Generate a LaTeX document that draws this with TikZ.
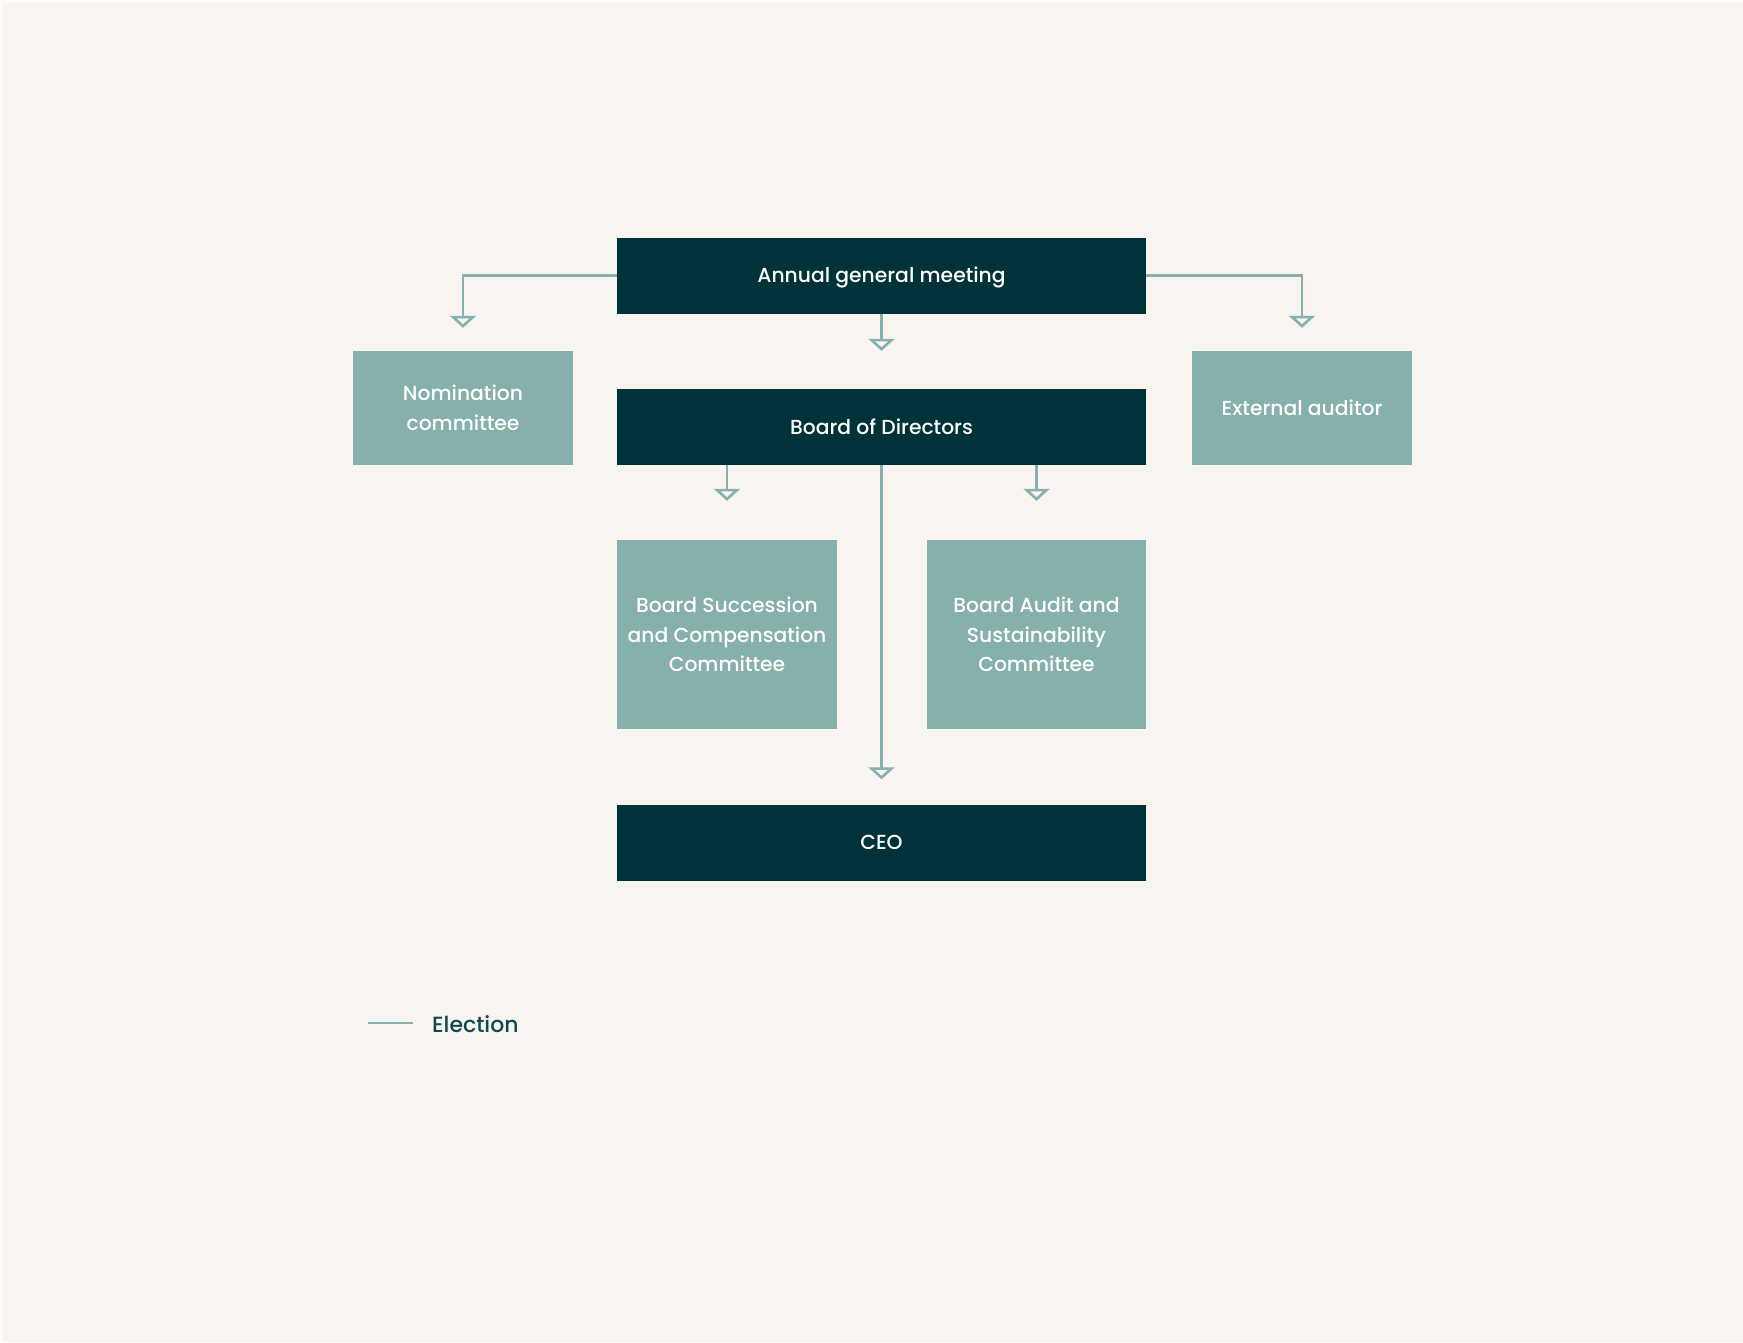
\documentclass[tikz,border=0pt]{standalone}
\usepackage{fontspec}
\setmainfont{Poppins}[BoldFont={Poppins Medium}]
\usetikzlibrary{arrows.meta}
\definecolor{bgc}{HTML}{F8F5F0}
\definecolor{edgec}{HTML}{FDFCFA}
\definecolor{darkc}{HTML}{003339}
\definecolor{lightc}{HTML}{85B0AB}
\definecolor{linec}{HTML}{86B1AC}
\definecolor{legc}{HTML}{0D4A4F}
\tikzset{
  oneline/.style={text height=14.5pt, text depth=0pt},
  darkbox/.style={rectangle, fill=darkc, inner sep=0pt, minimum width=529pt, minimum height=76pt, text=white, font=\fontsize{20.3}{29}\selectfont\bfseries, align=center, oneline},
  lightbox/.style={rectangle, fill=lightc, inner sep=0pt, minimum width=220pt, text=white, font=\fontsize{20.3}{29.5}\selectfont\bfseries, align=center},
  elect/.style={draw=linec, line width=2.6pt, -{Triangle[open, length=12pt, width=26pt, fill=bgc]}},
}
\begin{document}
\begin{tikzpicture}[x=1pt,y=-1pt]
\fill[edgec] (0,0) rectangle (1743,1342);
\fill[bgc] (3,3) rectangle (1743,1342);
\useasboundingbox (0,0) rectangle (1743,1342);
\node[darkbox] (agm) at (881.5,275.5) {Annual general meeting};
\node[darkbox] (bod) at (881.5,427) {Board of Directors};
\node[darkbox] (ceo) at (881.5,842.5) {CEO};
\node[lightbox, minimum height=114pt] (nom) at (463,408) {Nomination\\committee};
\node[lightbox, minimum height=114pt, oneline] (ext) at (1302,408) {External auditor};
\node[lightbox, minimum height=189pt] (succ) at (727,634.5) {Board Succession\\and Compensation\\Committee};
\node[lightbox, minimum height=189pt, minimum width=219pt] (aud) at (1036.5,634.5) {Board Audit and\\Sustainability\\Committee};
\draw[elect, shorten >=23pt] (agm.west) -| (nom.north);
\draw[elect, shorten >=23pt] (agm.east) -| (ext.north);
\draw[elect, shorten >=38pt] (agm.south) -- (bod.north);
\draw[elect, shorten >=39pt] (bod.south -| succ.north) -- (succ.north);
\draw[elect, shorten >=39pt] (bod.south -| aud.north) -- (aud.north);
\draw[elect, shorten >=25pt] (bod.south) -- (ceo.north);
\coordinate (l1) at (368,1023);
\coordinate (l2) at (413,1023);
\draw[draw=linec, line width=2.6pt] (l1) -- (l2);
\node[anchor=west, inner sep=0pt, text=legc, font=\fontsize{22}{28}\selectfont\bfseries] (leg) at (432,1024) {Election};
\end{tikzpicture}
\end{document}
